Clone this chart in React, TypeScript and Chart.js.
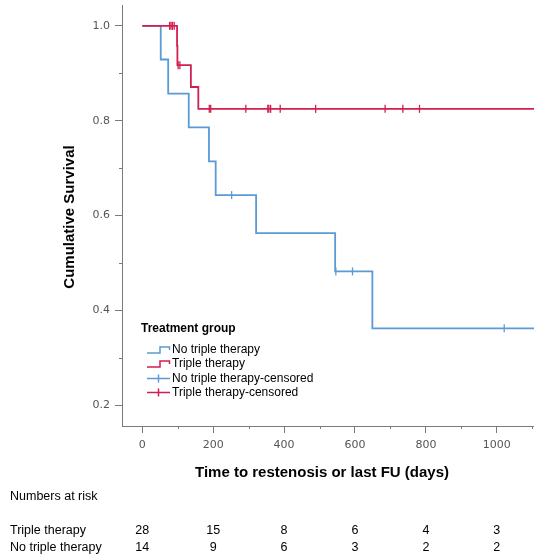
import React, { useEffect, useRef } from "react";
import { Chart, registerables } from "chart.js";

Chart.register(...registerables);

// Kaplan-Meier step data (time in days, cumulative survival)
const noTripleTimes = [0, 52, 73, 131, 188, 207, 321, 544, 649, 1150];
const noTripleSurv = [1, 0.929, 0.857, 0.786, 0.714, 0.643, 0.563, 0.482, 0.362, 0.362];
const noTripleCensorTimes = [252, 546, 593, 1021];
const noTripleCensorSurv = [0.643, 0.482, 0.482, 0.362];

const tripleTimes = [0, 98, 99, 137, 158, 1150];
const tripleSurv = [1, 0.958, 0.917, 0.871, 0.825, 0.825];
const tripleCensorTimes = [77, 81, 85, 90, 101, 106, 189, 193, 292, 354, 357, 362, 389, 489, 685, 735, 782];
const tripleCensorSurv = [1, 1, 1, 1, 0.917, 0.917, 0.825, 0.825, 0.825, 0.825, 0.825, 0.825, 0.825, 0.825, 0.825, 0.825, 0.825];

// Axes
const xMajorTicks = [0, 200, 400, 600, 800, 1000];
const xMinorTicks = [100, 300, 500, 700, 900, 1100];
const yMajorTicks = [0.2, 0.4, 0.6, 0.8, 1.0];
const yMinorTicks = [0.3, 0.5, 0.7, 0.9];

// Numbers at risk
const riskTimes = [0, 200, 400, 600, 800, 1000];
const riskTriple = [28, 15, 8, 6, 4, 3];
const riskNoTriple = [14, 9, 6, 3, 2, 2];

const legendLabels = [
  "No triple therapy",
  "Triple therapy",
  "No triple therapy-censored",
  "Triple therapy-censored",
];

const BLUE = "#5b9bd5";
const RED = "#d11f4f";
const AXIS = "#7a7a7a";
const SANS = '"Liberation Sans", Arial, sans-serif';

const toPts = (xs: number[], ys: number[]) => xs.map((x, i) => ({ x, y: ys[i] }));

const decorPlugin = {
  id: "decor",
  afterDraw(chart: any) {
    const ctx = chart.ctx as CanvasRenderingContext2D;
    const xs = chart.scales.x;
    const ys = chart.scales.y;
    const area = chart.chartArea;
    ctx.save();
    // minor ticks
    ctx.strokeStyle = AXIS;
    ctx.lineWidth = 1;
    ctx.beginPath();
    xMinorTicks.forEach((v) => {
      const px = Math.round(xs.getPixelForValue(v)) + 0.5;
      if (px <= area.right) {
        ctx.moveTo(px, area.bottom);
        ctx.lineTo(px, area.bottom + 3);
      }
    });
    yMinorTicks.forEach((v) => {
      const py = Math.round(ys.getPixelForValue(v)) + 0.5;
      ctx.moveTo(area.left - 3, py);
      ctx.lineTo(area.left, py);
    });
    ctx.stroke();

    // axis titles
    ctx.fillStyle = "#000";
    ctx.font = `bold 15px ${SANS}`;
    ctx.textAlign = "center";
    ctx.textBaseline = "middle";
    ctx.fillText("Time to restenosis or last FU (days)", 322, 473);
    ctx.save();
    ctx.translate(70, 217);
    ctx.rotate(-Math.PI / 2);
    ctx.fillText("Cumulative Survival", 0, 0);
    ctx.restore();

    // legend
    ctx.textAlign = "left";
    ctx.font = `bold 12px ${SANS}`;
    ctx.fillText("Treatment group", 141, 329);
    ctx.font = `12px ${SANS}`;
    const rows = [350, 364, 378.5, 392.5];
    const cols = [BLUE, RED, BLUE, RED];
    rows.forEach((ry, i) => {
      ctx.strokeStyle = cols[i];
      ctx.lineWidth = 1.5;
      ctx.beginPath();
      if (i < 2) {
        ctx.moveTo(147, ry + 3);
        ctx.lineTo(160, ry + 3);
        ctx.lineTo(160, ry - 3);
        ctx.lineTo(169.5, ry - 3);
        ctx.lineTo(169.5, ry);
      } else {
        ctx.moveTo(147, ry);
        ctx.lineTo(170, ry);
        ctx.moveTo(158.5, ry - 4);
        ctx.lineTo(158.5, ry + 4);
      }
      ctx.stroke();
      ctx.fillStyle = "#000";
      ctx.fillText(legendLabels[i], 172, ry);
    });

    // numbers at risk
    ctx.font = `12.5px ${SANS}`;
    ctx.textAlign = "left";
    ctx.fillText("Numbers at risk", 10, 497);
    ctx.fillText("Triple therapy", 10, 531);
    ctx.fillText("No triple therapy", 10, 548);
    ctx.textAlign = "center";
    riskTimes.forEach((t, i) => {
      const px = xs.getPixelForValue(t);
      ctx.fillText(String(riskTriple[i]), px, 531);
      ctx.fillText(String(riskNoTriple[i]), px, 548);
    });
    ctx.restore();
  },
};

export default function App() {
  const ref = useRef<HTMLCanvasElement>(null);
  useEffect(() => {
    if (!ref.current) return;
    const chart = new Chart(ref.current, {
      type: "line",
      data: {
        datasets: [
          {
            label: legendLabels[0],
            data: toPts(noTripleTimes, noTripleSurv),
            borderColor: BLUE,
            borderWidth: 1.8,
            stepped: true,
            pointRadius: 0,
            fill: false,
            order: 3,
          },
          {
            label: legendLabels[1],
            data: toPts(tripleTimes, tripleSurv),
            borderColor: RED,
            borderWidth: 1.8,
            stepped: true,
            pointRadius: 0,
            fill: false,
            order: 2,
          },
          {
            label: legendLabels[2],
            data: toPts(noTripleCensorTimes, noTripleCensorSurv),
            showLine: false,
            pointStyle: "line",
            pointRotation: 90,
            pointRadius: 4,
            pointBorderWidth: 1.3,
            pointBorderColor: BLUE,
            borderColor: BLUE,
            order: 1,
          },
          {
            label: legendLabels[3],
            data: toPts(tripleCensorTimes, tripleCensorSurv),
            showLine: false,
            pointStyle: "line",
            pointRotation: 90,
            pointRadius: 4,
            pointBorderWidth: 1.3,
            pointBorderColor: RED,
            borderColor: RED,
            order: 0,
          },
        ],
      },
      options: {
        animation: false,
        responsive: false,
        devicePixelRatio: 1,
        events: [],
        layout: { autoPadding: false, padding: { left: 0, right: 0, top: 5, bottom: 100 } },
        plugins: { legend: { display: false }, tooltip: { enabled: false } },
        scales: {
          x: {
            type: "linear",
            min: -57.3,
            max: 1105,
            afterFit: (s: any) => {
              s.height = 30;
              s.paddingLeft = 0;
              s.paddingRight = 0;
            },
            afterBuildTicks: (s: any) => {
              s.ticks = xMajorTicks.map((v) => ({ value: v }));
            },
            border: { display: true, color: AXIS, width: 1 },
            grid: { display: true, drawOnChartArea: false, drawTicks: true, tickLength: 7, color: AXIS },
            ticks: {
              autoSkip: false,
              maxRotation: 0,
              padding: 6,
              color: "#555",
              font: { family: '"DejaVu Sans", Verdana, sans-serif', size: 11 },
              callback: (v: any) => String(v),
            },
          },
          y: {
            type: "linear",
            min: 0.156,
            max: 1.044,
            afterFit: (s: any) => {
              s.width = 122;
              s.paddingTop = 0;
              s.paddingBottom = 0;
            },
            afterBuildTicks: (s: any) => {
              s.ticks = yMajorTicks.map((v) => ({ value: v }));
            },
            border: { display: true, color: AXIS, width: 1 },
            grid: { display: true, drawOnChartArea: false, drawTicks: true, tickLength: 7, color: AXIS },
            ticks: {
              autoSkip: false,
              padding: 5,
              color: "#555",
              font: { family: '"DejaVu Sans", Verdana, sans-serif', size: 11 },
              callback: (v: any) => Number(v).toFixed(1),
            },
          },
        },
      },
      plugins: [decorPlugin],
    });
    return () => chart.destroy();
  }, []);
  return (
    <div style={{ position: "absolute", left: 0, top: 0, width: 534, height: 556, background: "#fff" }}>
      <canvas ref={ref} width={534} height={556} style={{ display: "block" }} />
    </div>
  );
}
